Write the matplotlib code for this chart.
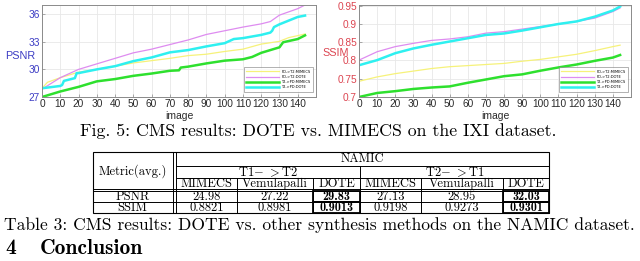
import numpy as np
import matplotlib
matplotlib.use("Agg")
import matplotlib.pyplot as plt
from matplotlib.patches import Rectangle

plt.rcParams['mathtext.fontset'] = 'cm'

# ---- data (image index, value) ----
psnr_mimecs_x = [0, 3, 10, 20, 30, 40, 50, 60, 70, 80, 90, 100, 110, 120, 130, 135, 144]
psnr_mimecs_y = [27.95, 28.6, 29.1, 29.7, 30.0, 30.35, 30.7, 30.95, 31.2, 31.5, 31.65, 31.95, 32.2, 32.75, 33.05, 33.45, 33.85]
psnr_dote_x = [0, 10, 20, 30, 40, 50, 60, 70, 80, 90, 100, 110, 120, 125, 130, 140, 144]
psnr_dote_y = [27.85, 29.1, 30.0, 30.6, 31.2, 31.8, 32.2, 32.7, 33.2, 33.8, 34.2, 34.6, 34.95, 35.2, 35.9, 36.6, 37.0]
psnr_mimecs2_x = [0, 10, 20, 30, 40, 50, 60, 70, 75, 76, 80, 90, 100, 110, 115, 120, 130, 132, 140, 144]
psnr_mimecs2_y = [27.0, 27.6, 28.1, 28.7, 28.95, 29.3, 29.55, 29.85, 29.9, 30.2, 30.3, 30.65, 30.95, 31.1, 31.35, 31.8, 32.4, 32.95, 33.3, 33.7]
psnr_dote2_x = [0, 10, 11, 12, 18, 19, 20, 30, 40, 50, 60, 70, 80, 90, 100, 105, 110, 120, 125, 126, 127, 130, 140, 144]
psnr_dote2_y = [27.95, 28.2, 28.3, 28.75, 29.05, 29.6, 29.6, 30.0, 30.35, 30.9, 31.3, 31.85, 32.1, 32.5, 32.85, 33.3, 33.4, 33.75, 34.0, 34.2, 34.6, 34.9, 35.7, 35.85]

ssim_x = [0, 10, 20, 30, 40, 50, 60, 70, 80, 90, 100, 110, 120, 130, 140, 144]
ssim_mimecs_y = [0.743, 0.755, 0.764, 0.771, 0.778, 0.783, 0.786, 0.789, 0.792, 0.798, 0.803, 0.810, 0.817, 0.827, 0.838, 0.842]
ssim_dote_y = [0.801, 0.824, 0.838, 0.847, 0.855, 0.859, 0.865, 0.875, 0.879, 0.886, 0.893, 0.900, 0.907, 0.916, 0.934, 0.944]
ssim_mimecs2_y = [0.700, 0.711, 0.716, 0.722, 0.726, 0.729, 0.739, 0.748, 0.757, 0.762, 0.772, 0.781, 0.789, 0.799, 0.808, 0.815]
ssim_dote2_y = [0.787, 0.801, 0.820, 0.833, 0.843, 0.852, 0.861, 0.870, 0.874, 0.882, 0.891, 0.900, 0.907, 0.920, 0.937, 0.948]

legend_labels = ["PD->T2:MIMECS", "PD->T2:DOTE", "T2->PD:MIMECS", "T2->PD:DOTE"]

# ---- table data ----
table_groups = ["T1$-$ $>$T2", "T2$-$ $>$T1"]
table_methods = ["MIMECS", "Vemulapalli", "DOTE"]
table_metrics = ["PSNR", "SSIM"]
table_values = [["24.98", "27.22", "29.83", "27.13", "28.95", "32.03"],
                ["0.8821", "0.8981", "0.9013", "0.9198", "0.9273", "0.9301"]]
table_best = [2, 5]  # bold columns

W, H = 640, 261
fig = plt.figure(figsize=(W / 100, H / 100), dpi=100)

colors = ["#f6f27a", "#de8cf0", "#2ee02e", "#2ef0f0"]
widths = [0.9, 0.9, 1.8, 1.8]


def style_axes(ax, tick_col):
    ax.set_xlim(0, 150)
    ax.set_xticks(np.arange(0, 150, 10))
    ax.grid(True, color="#e8e8e8", lw=0.6)
    ax.set_axisbelow(True)
    for s in ax.spines.values():
        s.set_color("#8a8a8a")
        s.set_linewidth(0.7)
    ax.tick_params(direction="in", length=2, width=0.5, labelsize=7.3,
                   pad=1.5, colors="#8a8a8a")
    for t in ax.get_xticklabels():
        t.set_color("#2a2a2a")
        t.set_family("Liberation Sans")
    for t in ax.get_yticklabels():
        t.set_color(tick_col)
        t.set_family("Liberation Sans")
    ax.set_xlabel("image", fontsize=7.5, family="Liberation Sans", labelpad=1.5, color="#2a2a2a")


ax1 = fig.add_axes([42 / W, 1 - 97 / H, 274 / W, 92 / H])
series1 = [(psnr_mimecs_x, psnr_mimecs_y), (psnr_dote_x, psnr_dote_y),
           (psnr_mimecs2_x, psnr_mimecs2_y), (psnr_dote2_x, psnr_dote2_y)]
for (xs, ys), c, lw, lab in zip(series1, colors, widths, legend_labels):
    ax1.plot(xs, ys, color=c, lw=lw, label=lab)
ax1.set_ylim(27, 37)
ax1.set_yticks([27, 30, 33, 36])
style_axes(ax1, "#3c3cc4")

ax2 = fig.add_axes([359 / W, 1 - 97 / H, 272 / W, 92 / H])
for ys, c, lw, lab in zip([ssim_mimecs_y, ssim_dote_y, ssim_mimecs2_y, ssim_dote2_y],
                          colors, widths, legend_labels):
    ax2.plot(ssim_x, ys, color=c, lw=lw, label=lab)
ax2.set_ylim(0.7, 0.952)
ax2.set_yticks([0.7, 0.75, 0.8, 0.85, 0.9, 0.95])
ax2.set_yticklabels(["0.7", "0.75", "0.8", "0.85", "0.9", "0.95"])
style_axes(ax2, "#dc4450")

for ax in (ax1, ax2):
    handles, labels = ax.get_legend_handles_labels()
    leg = ax.legend(handles, labels, loc="lower right", fontsize=2.6, frameon=True,
                    fancybox=False, edgecolor="#777777", handlelength=9,
                    borderpad=0.6, labelspacing=0.35, bbox_to_anchor=(0.995, 0.04))
    leg.get_frame().set_linewidth(0.5)

# y labels placed as in the picture
fig.text(20 / W, 1 - 56 / H, "PSNR", color="#3c3cc4", fontsize=7.8,
         family="Liberation Sans", ha="center", va="center")
fig.text(336 / W, 1 - 53 / H, "SSIM", color="#dc4450", fontsize=7.8,
         family="Liberation Sans", ha="center", va="center")

# ---- overlay for captions and table (pixel coordinates) ----
ov = fig.add_axes([0, 0, 1, 1])
ov.set_xlim(0, W)
ov.set_ylim(H, 0)
ov.axis("off")

ov.text(318, 131, "Fig. 5: CMS results: DOTE vs. MIMECS on the IXI dataset.",
        family="cmr10", fontsize=12.8, ha="center", va="center")

# table layout
x_left, x_right = 93, 549
col_x = [176, 237, 313, 360, 421, 503, 549]
row_y = [152, 166, 178, 190, 202, 213]
lk = dict(color="black", lw=0.7)
ov.add_patch(Rectangle((x_left, row_y[0]), x_right - x_left, row_y[-1] - row_y[0],
                       fill=False, ec="black", lw=0.8))
ov.plot([172.5, 172.5], [row_y[0], row_y[-1]], **lk)
ov.plot([175.5, 175.5], [row_y[0], row_y[-1]], **lk)
ov.plot([col_x[0], x_right], [row_y[1], row_y[1]], **lk)
ov.plot([col_x[0], x_right], [row_y[2], row_y[2]], **lk)
ov.plot([x_left, x_right], [row_y[3] - 1, row_y[3] - 1], **lk)
ov.plot([x_left, x_right], [row_y[3] + 1, row_y[3] + 1], **lk)
ov.plot([x_left, x_right], [row_y[4], row_y[4]], **lk)
ov.plot([col_x[3], col_x[3]], [row_y[1], row_y[-1]], **lk)
for cx in [col_x[1], col_x[2], col_x[4], col_x[5]]:
    ov.plot([cx, cx], [row_y[2], row_y[-1]], **lk)

tf = dict(family="cmr10", fontsize=9, ha="center", va="center")
ov.text((x_left + 172) / 2, (row_y[0] + row_y[3]) / 2, "Metric(avg.)", **tf)
ov.text((col_x[0] + x_right) / 2, (row_y[0] + row_y[1]) / 2, "NAMIC", **tf)
for g, grp in enumerate(table_groups):
    ov.text((col_x[3 * g] + col_x[3 * g + 3]) / 2, (row_y[1] + row_y[2]) / 2, grp, **tf)
    for m, meth in enumerate(table_methods):
        c0, c1 = col_x[3 * g + m], col_x[3 * g + m + 1]
        ov.text((c0 + c1) / 2, (row_y[2] + row_y[3]) / 2, meth, **tf)
for r, met in enumerate(table_metrics):
    y0, y1 = row_y[3 + r], row_y[4 + r]
    yc = (y0 + y1) / 2 + 0.5
    ov.text((x_left + 172) / 2, yc, met, **tf)
    for c, val in enumerate(table_values[r]):
        c0, c1 = col_x[c], col_x[c + 1]
        if c in table_best:
            ov.text((c0 + c1) / 2, yc, val, family="cmb10", fontsize=8.8,
                    ha="center", va="center")
            ov.add_patch(Rectangle((c0, y0 + (1 if r == 0 else 0)), c1 - c0,
                                   y1 - y0 - (1 if r == 0 else 0),
                                   fill=False, ec="black", lw=1.3))
        else:
            ov.text((c0 + c1) / 2, yc, val, **tf)

ov.text(319, 225, "Table 3: CMS results: DOTE vs. other synthesis methods on the NAMIC dataset.",
        family="cmr10", fontsize=12.6, ha="center", va="center")
ov.text(5, 249, "4", family="cmb10", fontsize=15.5, ha="left", va="center")
ov.text(40, 249, "Conclusion", family="cmb10", fontsize=15.5, ha="left", va="center")

fig.savefig("out.png", dpi=100)
